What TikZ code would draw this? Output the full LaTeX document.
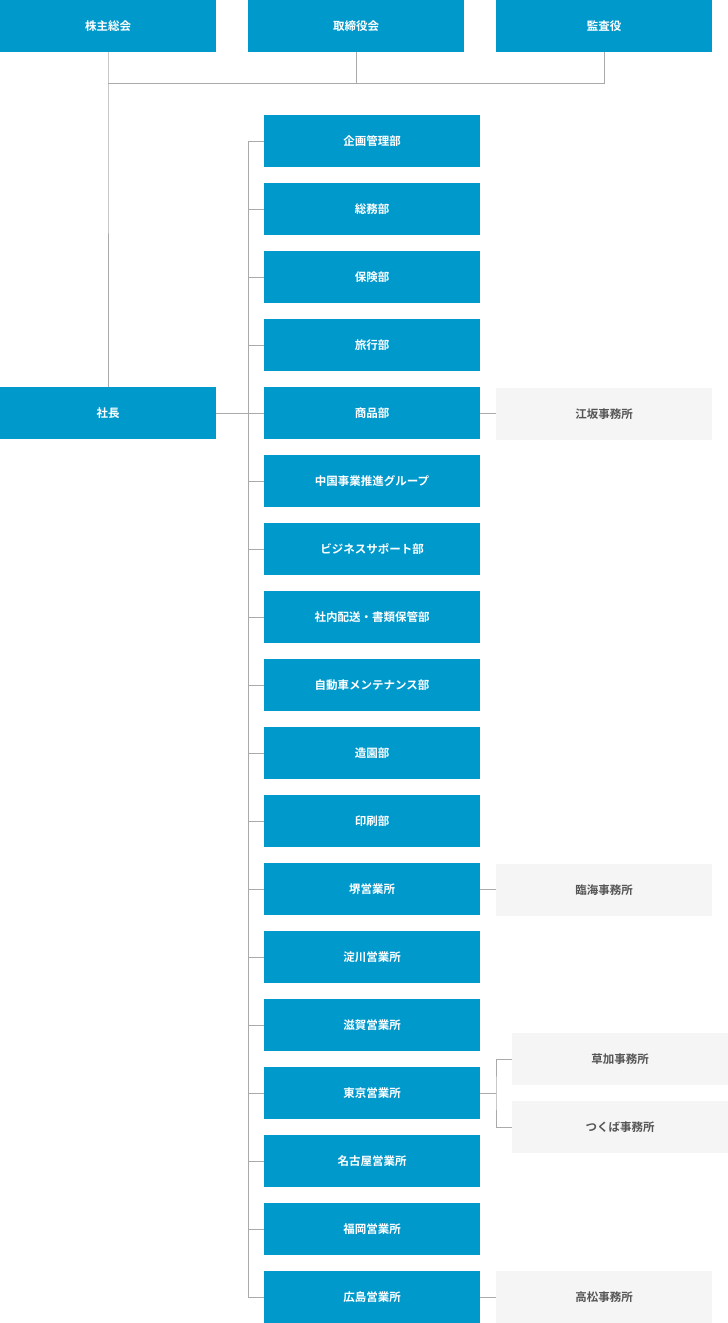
\documentclass[tikz,border=0pt]{standalone}
\usepackage{fontspec}
\setmainfont{Noto Sans CJK JP}[BoldFont={Noto Sans CJK JP Bold}]
\begin{document}
\begin{tikzpicture}[x=1pt,y=-1pt,
 bx/.style={fill=c1,text=white,minimum width=216pt,minimum height=52pt,inner sep=0,font=\bfseries\fontsize{11.5}{13}\selectfont},
 gx/.style={fill=c2,text=c3,minimum width=216pt,minimum height=52pt,inner sep=0,font=\bfseries\fontsize{11.5}{13}\selectfont},
 ln/.style={draw=c4,line width=0.8pt}]
\definecolor{c1}{RGB}{0,153,204}
\definecolor{c2}{RGB}{245,245,245}
\definecolor{c3}{RGB}{85,85,85}
\definecolor{c4}{RGB}{170,170,170}
\useasboundingbox (0,0) rectangle (728,1323);
\node[bx] (k1) at (108,26) {株主総会};
\node[bx] (k2) at (356,26) {取締役会};
\node[bx] (k3) at (604,26) {監査役};
\node[bx] (pr) at (108,413) {社長};
\coordinate (j) at (108,83);
\draw[ln] (k1.south) -- (j) -- (pr.north);
\draw[ln] (k2.south) |- (j);
\draw[ln] (k3.south) |- (j);
\foreach \t [count=\i from 0] in {企画管理部,総務部,保険部,旅行部,商品部,中国事業推進グループ,ビジネスサポート部,社内配送・書類保管部,自動車メンテナンス部,造園部,印刷部,堺営業所,淀川営業所,滋賀営業所,東京営業所,名古屋営業所,福岡営業所,広島営業所}{
 \node[bx] (d\i) at (372,141+68*\i) {\t};
 \draw[ln] (d\i.west) -- ++(-16,0);
}
\draw[ln] (248,141) -- (248,1297);
\draw[ln] (pr.east) -- (248,413);
\node[gx] (g1) at (604,414) {江坂事務所};
\node[gx] (g2) at (604,890) {臨海事務所};
\node[gx] (g3) at (620,1059) {草加事務所};
\node[gx] (g4) at (620,1127) {つくば事務所};
\node[gx] (g5) at (604,1297) {高松事務所};
\draw[ln] (d4.east) -- (g1.west|-d4.east);
\draw[ln] (d11.east) -- (g2.west|-d11.east);
\draw[ln] (d17.east) -- (g5.west|-d17.east);
\draw[ln] (d14.east) -- (496,1093);
\draw[ln] (g3.west) -| (496,1093) |- (g4.west);
\end{tikzpicture}
\end{document}
